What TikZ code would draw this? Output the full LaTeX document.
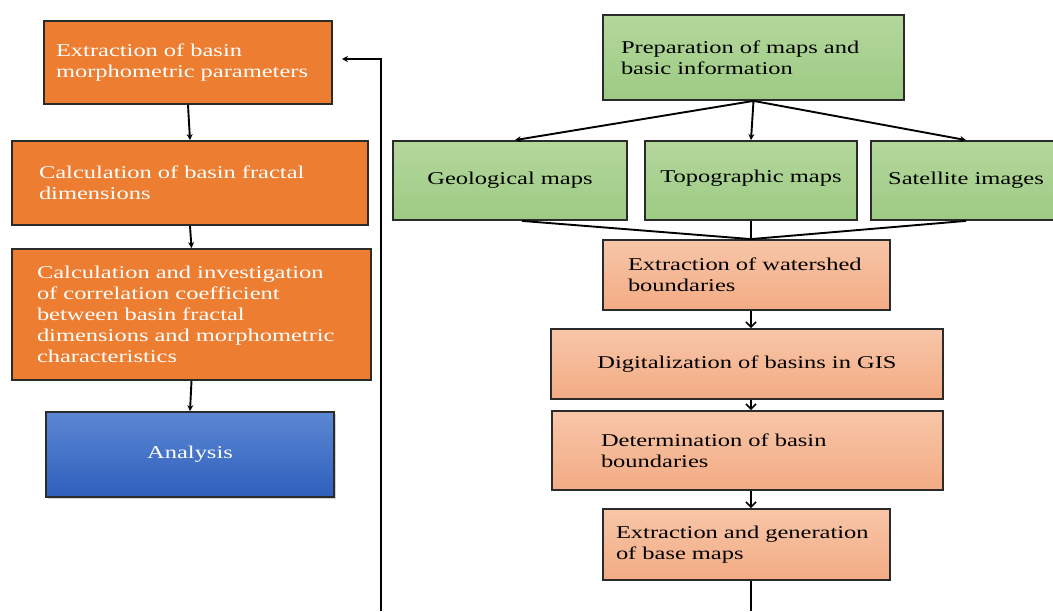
\documentclass[tikz,border=0pt]{standalone}
\usepackage{fontspec}
\setmainfont{Liberation Serif}[FakeStretch=1.36]
\usetikzlibrary{arrows.meta,shadows}
\definecolor{boxline}{HTML}{2B2B2B}
\definecolor{orangebox}{HTML}{ED7D31}
\definecolor{greentop}{HTML}{B4D79C}
\definecolor{greenbot}{HTML}{9DCB83}
\definecolor{salmtop}{HTML}{F7C6A8}
\definecolor{salmbot}{HTML}{F3AB84}
\definecolor{bluetop}{HTML}{5B87D2}
\definecolor{bluebot}{HTML}{2F5FBD}
\begin{document}
\begin{tikzpicture}[x=1pt,y=-1pt,
  box/.style={draw=boxline, line width=1.8pt, inner ysep=2pt, font=\fontsize{18}{21}\selectfont},
  obox/.style={box, fill=orangebox, text=white, align=left},
  gbox/.style={box, top color=greentop, bottom color=greenbot, text=black},
  sbox/.style={box, top color=salmtop, bottom color=salmbot, text=black},
  bbox/.style={box, top color=bluetop, bottom color=bluebot, text=white, align=center,
    drop shadow={opacity=0.35, shadow xshift=2pt, shadow yshift=-2pt}},
  conn/.style={draw=black, line width=1.9pt},
  arr/.style={conn, -{Stealth[length=6pt,width=6pt]}},
  barb/.style={conn, -{Straight Barb[length=5pt,width=10pt,line width=1.6pt]}}
]
\useasboundingbox (0,0) rectangle (1053,611);
\fill[white] (0,0) rectangle (1053,611);
\clip (0,0) rectangle (1053,611);

% left column
\node[obox, minimum height=83pt, text width=264pt, inner xsep=12pt] (b1) at (188,62.5)
  {Extraction of basin\\morphometric parameters};
\node[obox, minimum height=84pt, text width=302pt, inner xsep=27pt] (b2) at (190,183)
  {Calculation of basin fractal\\dimensions};
\node[obox, minimum height=131pt, text width=309pt, inner xsep=25pt] (b3) at (191.5,314.5)
  {Calculation and investigation\\of correlation coefficient\\between basin fractal\\dimensions and morphometric\\characteristics};
\node[bbox, minimum width=288pt, minimum height=85pt] (an) at (190,454.5) {Analysis};

% right column
\node[gbox, align=left, minimum height=85pt, text width=265pt, inner xsep=18pt] (prep) at (753.5,57.5)
  {Preparation of maps and\\basic information};
\node[gbox, align=center, minimum width=234pt, minimum height=79pt] (geo) at (510,180.5) {Geological maps};
\node[gbox, align=center, minimum width=212pt, minimum height=79pt] (topo) at (751,180.5) {\raisebox{9pt}{Topographic maps}};
\node[gbox, align=center, minimum width=190pt, minimum height=79pt] (sat) at (966,180.5) {Satellite images};

\node[sbox, align=left, minimum height=70pt, text width=237pt, inner xsep=25pt] (ws) at (746.5,275)
  {Extraction of watershed\\boundaries};
\node[sbox, align=center, minimum width=392pt, minimum height=70pt] (dig) at (747,364)
  {Digitalization of basins in GIS};
\node[sbox, align=left, minimum height=79pt, text width=293pt, inner xsep=49pt] (det) at (747.5,450.5)
  {Determination of basin\\boundaries};
\node[sbox, align=left, minimum height=71pt, text width=261pt, inner xsep=13pt] (ext) at (746.5,544.5)
  {Extraction and generation\\of base maps};

% connectors left
\draw[arr] (b1.south) -- (b2.north);
\draw[arr] (b2.south) -- (b3.north);
\draw[arr] (b3.south) -- (an.north);

% connectors right
\draw[arr] (prep.south) -- ([xshift=5pt]geo.north);
\draw[arr] (prep.south) -- (topo.north);
\draw[arr] (prep.south) -- (sat.north);

\coordinate (m) at (topo.south |- ws.north);
\draw[conn] ([xshift=12pt]geo.south) -- (m);
\draw[conn] (topo.south) -- (m);
\draw[conn] (sat.south) -- (m);

\draw[barb] (ws.south -| m) -- (dig.north -| m);
\draw[barb] (dig.south -| m) -- (det.north -| m);
\draw[barb] (det.south -| m) -- (ext.north -| m);

\coordinate (endR) at (m |- 0,611);
\draw[conn] (ext.south -| m) -- (endR);

% feedback
\coordinate (fb0) at (381,611);
\coordinate (fb1) at (342,59);
\draw[arr] (fb0) |- (fb1);
\end{tikzpicture}
\end{document}
